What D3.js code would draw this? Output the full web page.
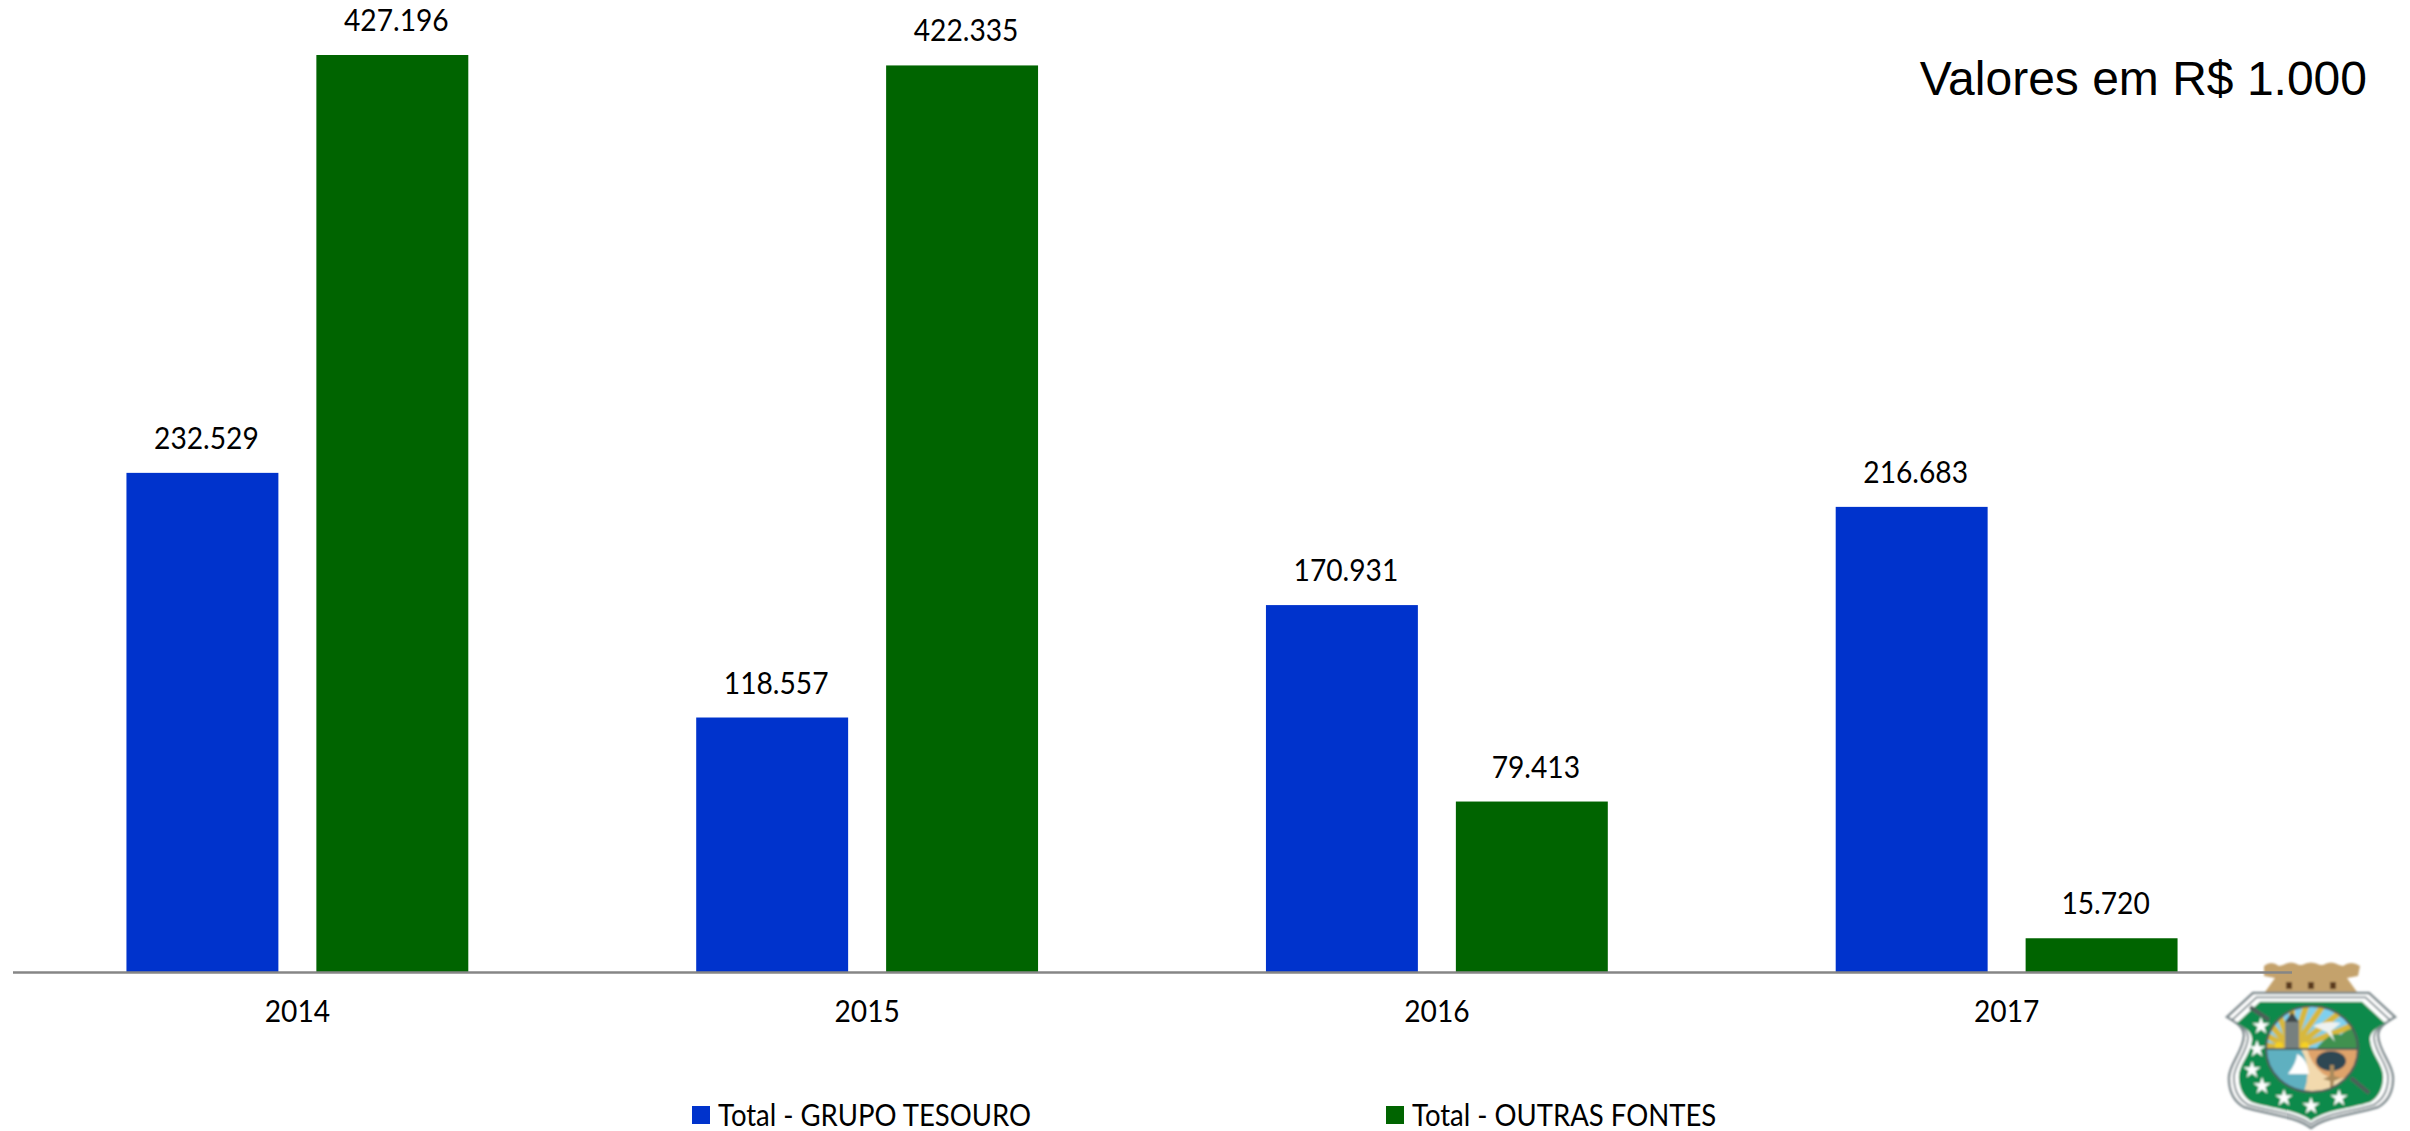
<!DOCTYPE html>
<html>
<head>
<meta charset="utf-8">
<script src="https://cdn.jsdelivr.net/npm/d3@7/dist/d3.min.js"></script>
<style>
  html, body { margin: 0; padding: 0; background: #fff; overflow: hidden; }
  text { font-family: Lato, "Open Sans", sans-serif; fill: #000; }
</style>
</head>
<body>
<svg id="chart" width="2410" height="1131"></svg>
<script>
const years = ["2014", "2015", "2016", "2017"];
const seriesNames = ["Total - GRUPO TESOURO", "Total - OUTRAS FONTES"];
const seriesColors = ["#0033cc", "#006400"];
const tesouro = [232529, 118557, 170931, 216683];
const outrasFontes = [427196, 422335, 79413, 15720];
const note = "Valores em R$ 1.000";

const svg = d3.select("#chart");
const baseline = 972;
const narrow = 0.94;   // source picture is squeezed sideways

const x = d3.scaleBand().domain(years).range([12.5, 2291.5]).paddingOuter(0.2).paddingInner(0.4);
const xInner = d3.scaleBand().domain([0, 1]).range([0, x.bandwidth()]).paddingInner(0.2);
const y = d3.scaleLinear().domain([0, 427196]).range([baseline, 55]);
const fmt = d3.formatLocale({ decimal: ",", thousands: ".", grouping: [3], currency: ["R$", ""] }).format(",d");

// state crest, bottom right (drawn first, the axis line runs over the castle)
const defs = svg.append("defs");
defs.append("filter").attr("id", "soft").append("feGaussianBlur").attr("stdDeviation", 1.1);
defs.append("clipPath").attr("id", "medal").append("ellipse").attr("cx", 1).attr("cy", -1).attr("rx", 46).attr("ry", 43);
const shieldPath = "M-58,-57 L58,-57 L84,-33 C72,-26 67,-22 67,-14 C68,2 82,14 82,28 C82,42 76,52 67,57 C45,64 15,66 0,78 C-15,66 -45,64 -67,57 C-76,52 -82,42 -82,28 C-82,14 -68,2 -67,-14 C-67,-22 -72,-26 -84,-33 Z";
const crest = svg.append("g").attr("transform", "translate(2311,1050)").attr("filter", "url(#soft)");

crest.append("path")
  .attr("d", "M-47,-84 Q-40,-90 -32,-84 L-28,-85 Q-20,-90 -12,-85 L-9,-85 Q0,-90 9,-85 L12,-85 Q20,-90 28,-85 L32,-84 Q40,-90 49,-84 L47,-74 L36,-72 L46,-58 L-46,-58 L-36,-72 L-47,-74 Z")
  .attr("fill", "#c4a26c");
crest.selectAll("rect.win").data([-22, 0, 22]).enter().append("rect")
  .attr("x", d => d - 3).attr("y", -68).attr("width", 6).attr("height", 7).attr("fill", "#5c3a1c");

crest.append("path").attr("d", shieldPath).attr("fill", "#fff").attr("stroke", "#7e8a8e").attr("stroke-width", 2.5);
crest.append("path").attr("d", shieldPath).attr("fill", "#fff").attr("stroke", "#7e8a8e").attr("stroke-width", 2)
  .attr("transform", "translate(0,1) scale(0.94)");
crest.append("path").attr("d", shieldPath).attr("fill", "#118a4b")
  .attr("transform", "translate(0,2) scale(0.88)");
crest.append("line").attr("x1", -61).attr("y1", -43).attr("x2", -42).attr("y2", -30).attr("stroke", "#4d5f5a").attr("stroke-width", 4);
crest.append("line").attr("x1", 40).attr("y1", 28).attr("x2", 58).attr("y2", 43).attr("stroke", "#4d5f5a").attr("stroke-width", 4);

const medal = crest.append("g").attr("clip-path", "url(#medal)");
medal.append("rect").attr("x", -46).attr("y", -44).attr("width", 94).attr("height", 43).attr("fill", "#7fd0ee");
medal.selectAll("line.ray").data([-170, -150, -130, -110, -90, -72, -55, -38, -22]).enter().append("line")
  .attr("x1", -19).attr("y1", 0)
  .attr("x2", d => -19 + 90 * Math.cos(d * Math.PI / 180))
  .attr("y2", d => 90 * Math.sin(d * Math.PI / 180))
  .attr("stroke", "#d8b83c").attr("stroke-width", 6);
medal.append("path").attr("d", "M5,-1 Q20,-20 30,-15 Q40,-25 50,-18 L50,-1 Z").attr("fill", "#3f9150");
medal.append("path").attr("d", "M2,-24 Q14,-30 30,-27 L20,-19 L24,-8 L16,-18 Z").attr("fill", "#eef2f0");
medal.append("rect").attr("x", -26).attr("y", -28).attr("width", 14).attr("height", 27).attr("fill", "#77807f");
medal.append("path").attr("d", "M-26,-28 L-19,-38 L-12,-28 Z").attr("fill", "#3f484c");
medal.append("circle").attr("cx", -32).attr("cy", -4).attr("r", 4).attr("fill", "#f5d020");
medal.append("circle").attr("cx", -6).attr("cy", -4).attr("r", 4).attr("fill", "#f5d020");
medal.append("rect").attr("x", -46).attr("y", -1).attr("width", 94).attr("height", 46).attr("fill", "#5eb0c0");
medal.append("path").attr("d", "M-10,-1 L50,-1 L50,45 L-8,45 Q2,20 -10,-1 Z").attr("fill", "#f2d9ad");
medal.append("path").attr("d", "M-4,-1 L50,-1 L50,20 Q30,35 12,24 Q0,14 -4,-1 Z").attr("fill", "#dfa36a");
medal.append("ellipse").attr("cx", 20).attr("cy", 11).attr("rx", 15).attr("ry", 10).attr("fill", "#2e4652");
medal.append("path").attr("d", "M19,15 L23,15 L23,26 L30,28 L23,31 L22,38 L19,38 L19,31 L12,29 L19,26 Z").attr("fill", "#a98a5c");
medal.append("path").attr("d", "M-23,24 Q-14,12 -14,4 Q-4,8 -2,24 Z").attr("fill", "#fff");
medal.append("rect").attr("x", -46).attr("y", -2).attr("width", 94).attr("height", 2).attr("fill", "#4a5a5a");
crest.append("ellipse").attr("cx", 1).attr("cy", -1).attr("rx", 46).attr("ry", 43)
  .attr("fill", "none").attr("stroke", "#4a5a5a").attr("stroke-width", 2);

const star = d3.symbol().type(d3.symbolStar).size(95);
crest.selectAll("path.star")
  .data([[-50, -24], [-54, -1], [-59, 20], [-49, 36], [-27, 48], [0, 56], [28, 48]])
  .enter().append("path")
    .attr("d", star)
    .attr("fill", "#fff")
    .attr("transform", d => `translate(${d[0]},${d[1]})`);

const groups = svg.selectAll("g.year")
  .data(years)
  .enter().append("g")
    .attr("class", "year")
    .attr("transform", d => `translate(${x(d)},0)`);

[tesouro, outrasFontes].forEach((values, s) => {
  groups.append("rect")
    .attr("x", xInner(s))
    .attr("y", (d, i) => y(values[i]))
    .attr("width", xInner.bandwidth())
    .attr("height", (d, i) => baseline - y(values[i]))
    .attr("fill", seriesColors[s]);

  groups.append("text")
    .attr("transform", (d, i) => `translate(${xInner(s) + xInner.bandwidth() / 2 + 4},${y(values[i]) - 24}) scale(${narrow},1)`)
    .attr("text-anchor", "middle")
    .style("font-size", "30px")
    .text((d, i) => fmt(values[i]));
});

// x axis
const xAxis = svg.append("g")
  .attr("transform", `translate(0,${baseline})`)
  .call(d3.axisBottom(x).tickSize(0).tickPadding(0));
xAxis.select(".domain").attr("stroke", "#868686").attr("stroke-width", 2.5);
xAxis.selectAll(".tick text")
  .attr("dy", null)
  .attr("y", null)
  .attr("transform", `translate(0,50) scale(${narrow},1)`)
  .style("font-family", "Lato")
  .style("font-size", "30px");

// legend
const legendX = [692, 1386];
const legend = svg.selectAll("g.legend")
  .data(seriesNames)
  .enter().append("g")
    .attr("class", "legend")
    .attr("transform", (d, i) => `translate(${legendX[i]},1106)`);
legend.append("rect")
  .attr("width", 18)
  .attr("height", 18)
  .attr("fill", (d, i) => seriesColors[i]);
legend.append("text")
  .attr("transform", "translate(26,20) scale(0.917,1)")
  .style("font-size", "30px")
  .text(d => d);

// note, top right
svg.append("text")
  .attr("x", 2367)
  .attr("y", 95)
  .attr("text-anchor", "end")
  .style("font-family", '"Liberation Sans"')
  .style("font-size", "48px")
  .text(note);
</script>
</body>
</html>
